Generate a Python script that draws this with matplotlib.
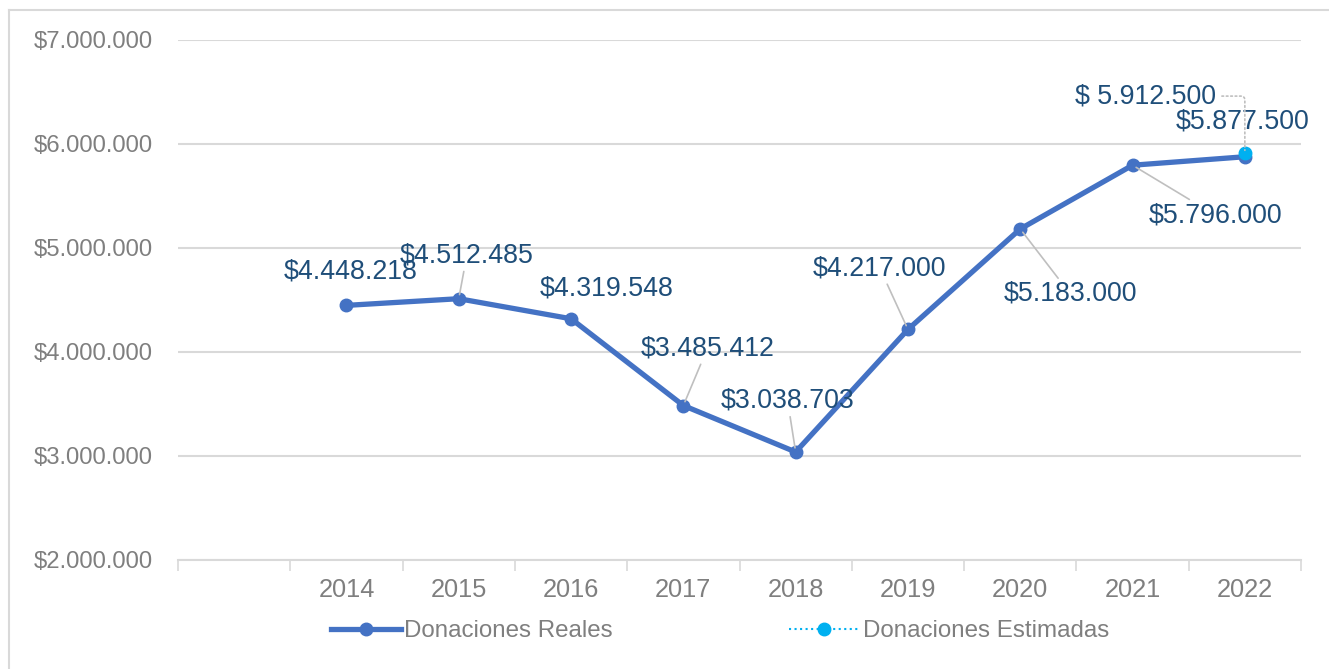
import matplotlib
matplotlib.use("Agg")
import matplotlib.pyplot as plt
from matplotlib.lines import Line2D

plt.rcParams['font.family'] = ['Liberation Sans', 'DejaVu Sans']

# data
years = ["", "2014", "2015", "2016", "2017", "2018", "2019", "2020", "2021", "2022"]
reales = [None, 4448218, 4512485, 4319548, 3485412, 3038703, 4217000, 5183000, 5796000, 5877500]
estimadas = [None, None, None, None, None, None, None, None, None, 5912500]
y_ticks = [2000000, 3000000, 4000000, 5000000, 6000000, 7000000]

c_real = "#4472C4"
c_est = "#00B0F0"
c_lbl = "#1F4E79"
c_grey = "#7F7F7F"

W, H = 1329, 669
fig = plt.figure(figsize=(W / 100, H / 100), dpi=100)
ax = fig.add_axes([178 / W, 1 - 560 / H, (1301 - 178) / W, (560 - 40) / H])

xr = [i for i, v in enumerate(reales) if v is not None]
yr = [v for v in reales if v is not None]
xe = [i for i, v in enumerate(estimadas) if v is not None]
ye = [v for v in estimadas if v is not None]

ax.plot(xr, yr, color=c_real, lw=3.8, marker="o", ms=9, zorder=3)
ax.plot(xe, ye, color=c_est, lw=1.5, ls=":", marker="o", ms=9, zorder=4)

ax.set_xlim(-0.5, len(years) - 0.5)
ax.set_ylim(y_ticks[0], y_ticks[-1])
ax.set_yticks(y_ticks)
ax.set_yticklabels(["$" + f"{v:,.0f}".replace(",", ".") for v in y_ticks])
ax.set_xticks(range(len(years)))
ax.set_xticklabels(years)
ax.set_xticks([i - 0.5 for i in range(len(years) + 1)], minor=True)
ax.tick_params(axis="x", which="major", length=0, pad=13, labelsize=18.3, labelcolor=c_grey)
ax.tick_params(axis="x", which="minor", length=8, width=1.2, color="#D9D9D9")
ax.tick_params(axis="y", length=0, pad=18, labelsize=17.2, labelcolor=c_grey)
ax.grid(axis="y", color="#D9D9D9", lw=1.5)
ax.set_axisbelow(True)
for s in ["top", "right", "left"]:
    ax.spines[s].set_visible(False)
ax.spines["bottom"].set_color("#D9D9D9")
ax.spines["bottom"].set_linewidth(1.5)

# data labels: (dx, dy) offsets in pixels, leader line or not
offsets = {1: (4, 34, False), 2: (8, 43, True), 3: (36, 30, False), 4: (24, 57, True),
           5: (-8, 51, True), 6: (-28, 61, True), 7: (50, -65, True), 8: (83, -50, True),
           9: (-2, 35, False)}
for i, v in enumerate(reales):
    if v is None:
        continue
    dx, dy, lead = offsets[i]
    ap = dict(arrowstyle="-", color="#BFBFBF", lw=1.2, shrinkA=0, shrinkB=3) if lead else None
    ax.annotate("$" + f"{v:,.0f}".replace(",", "."), xy=(i, v), xytext=(dx, dy),
                textcoords="offset pixels", ha="center", va="center",
                fontsize=19.3, color=c_lbl, arrowprops=ap, zorder=5)

for i, v in zip(xe, ye):
    ax.annotate("$ " + f"{v:,.0f}".replace(",", "."), xy=(i, v), xytext=(-99, 57),
                textcoords="offset pixels", ha="center", va="center",
                fontsize=19.3, color=c_lbl, zorder=5,
                arrowprops=dict(arrowstyle="-", color="#BFBFBF", lw=1.2, ls=":",
                                shrinkA=2, shrinkB=2, relpos=(1, 0.5),
                                connectionstyle="angle,angleA=0,angleB=90,rad=4"))

handles = [Line2D([], [], color=c_real, lw=3.8, marker="o", ms=9),
           Line2D([], [], color=c_est, lw=1.5, ls=":", marker="o", ms=9)]
fig.legend(handles, ["Donaciones Reales", "Donaciones Estimadas"], loc="center",
           bbox_to_anchor=(720 / W, 1 - 631 / H), ncol=2, frameon=False,
           fontsize=17.4, labelcolor=c_grey, handlelength=2.9, handletextpad=0.15,
           columnspacing=7.3)

# chart border (left and top visible)
fig.add_artist(Line2D([9 / W, 9 / W], [0, 1 - 10 / H], color="#D9D9D9", lw=1.5))
fig.add_artist(Line2D([9 / W, 1], [1 - 10 / H, 1 - 10 / H], color="#D9D9D9", lw=1.5))

fig.savefig("out.png", dpi=100)
